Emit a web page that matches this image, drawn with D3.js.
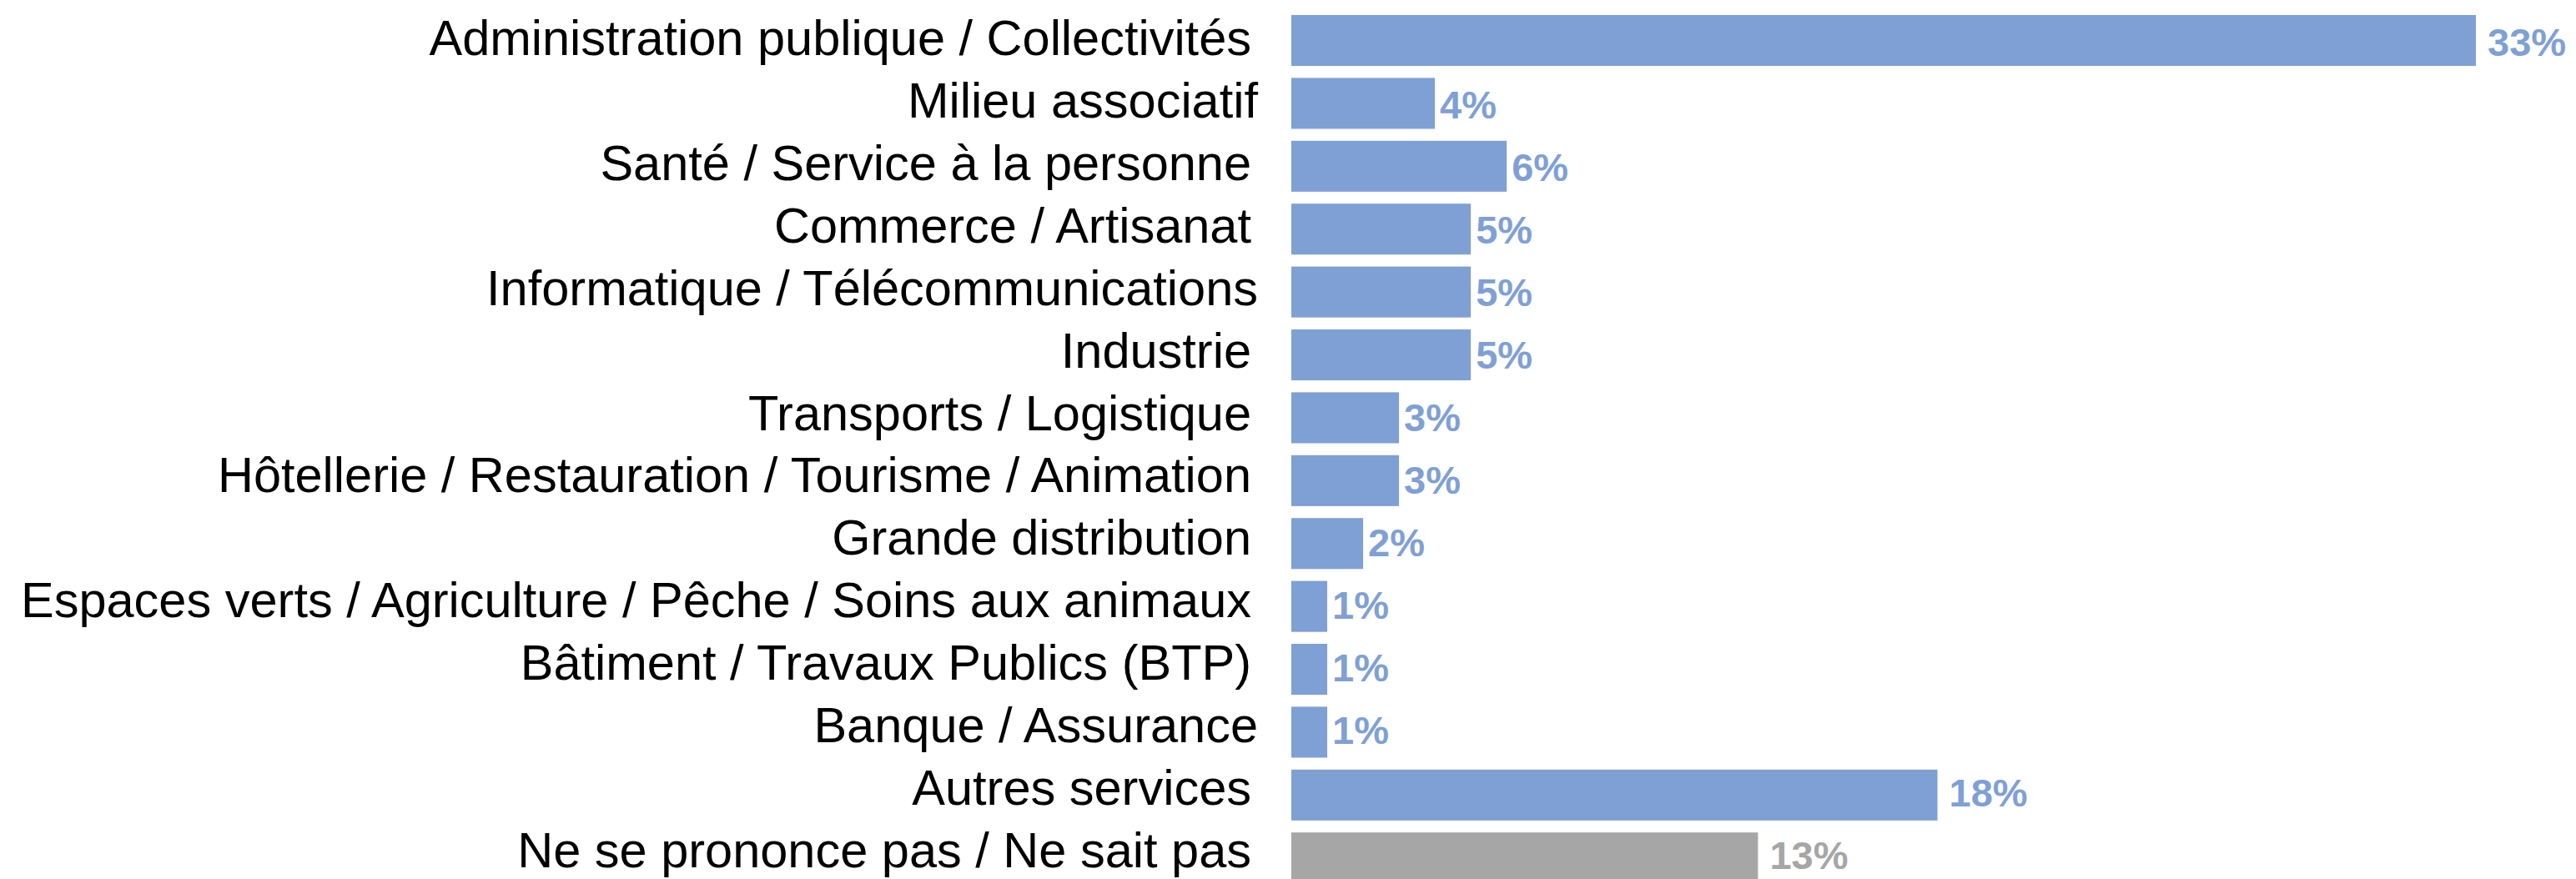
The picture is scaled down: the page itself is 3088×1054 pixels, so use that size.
<!DOCTYPE html>
<html>
<head>
  <meta charset="utf-8">
  <script src="https://cdn.jsdelivr.net/npm/d3@7"></script>
  <style>
    body { margin: 0; background: #fff; }
  </style>
</head>
<body>
  <script>

  var width = 3088
  var height = 1054

  // labels keep their trailing space as in the source chart
  var categories = [
    "Administration publique / Collectivités ",
    "Milieu associatif",
    "Santé / Service à la personne ",
    "Commerce / Artisanat ",
    "Informatique / Télécommunications",
    "Industrie ",
    "Transports / Logistique ",
    "Hôtellerie / Restauration / Tourisme / Animation ",
    "Grande distribution ",
    "Espaces verts / Agriculture / Pêche / Soins aux animaux ",
    "Bâtiment / Travaux Publics (BTP) ",
    "Banque / Assurance",
    "Autres services ",
    "Ne se prononce pas / Ne sait pas "
  ];
  var values = [33, 4, 6, 5, 5, 5, 3, 3, 2, 1, 1, 1, 18, 13];
  var noAnswer = "Ne se prononce pas / Ne sait pas ";

  var blue = "#7fa0d5";
  var grey = "#a6a6a6";

  var data = categories.map(function(c, i) {
    return { name: c, value: values[i] };
  });

  var svg = d3.select('body').append("svg")
    .attr("width", width)
    .attr("height", height);

  var step = 75.4;
  var y = d3.scaleBand()
    .domain(categories)
    .range([18 - 0.095 * step, 18 - 0.095 * step + categories.length * step])
    .paddingInner(0.19)
    .paddingOuter(0.095);

  // text baselines, one per row
  var yCat = d3.scalePoint().domain(categories).range([66, 1040]);
  var yVal = d3.scalePoint().domain(categories).range([67, 1042]);

  var x = d3.scaleLinear()
    .domain([0, 33])
    .range([1548, 2968]);

  function colorOf(d) { return d.name === noAnswer ? grey : blue; }

  svg.selectAll('.bar')
    .data(data).enter()
    .append("rect")
    .attr("class", "bar")
    .attr("x", x(0))
    .attr("y", function(d) { return y(d.name); })
    .attr("width", function(d) { return x(d.value) - x(0); })
    .attr("height", y.bandwidth())
    .attr("fill", colorOf);

  // category labels
  svg.selectAll('.cat')
    .data(data).enter()
    .append("text")
    .attr("class", "cat")
    .attr("x", function(d) { return / $/.test(d.name) ? 1500 : 1508; })
    .attr("y", function(d) { return yCat(d.name); })
    .attr("text-anchor", "end")
    .attr("font-family", "'Liberation Sans', Arial, sans-serif")
    .attr("font-size", 59.5)
    .attr("fill", "#000")
    .text(function(d) { return d.name.trim(); });

  // value labels
  svg.selectAll('.val')
    .data(data).enter()
    .append("text")
    .attr("class", "val")
    .attr("x", function(d) { return x(d.value) + (d.value >= 10 ? 14 : 6); })
    .attr("y", function(d) { return yVal(d.name); })
    .attr("font-family", "'Liberation Sans', Arial, sans-serif")
    .attr("font-weight", "bold")
    .attr("font-size", 47)
    .attr("fill", colorOf)
    .text(function(d) { return d.value + "%"; });

  </script>
</body>
</html>
